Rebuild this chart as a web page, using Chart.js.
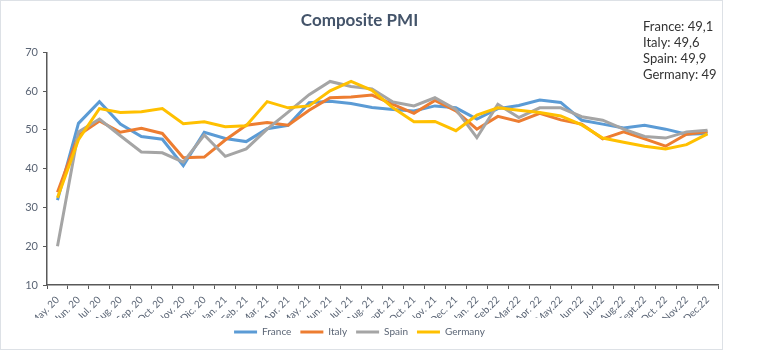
<!DOCTYPE html>
<html>
<head>
<meta charset="utf-8">
<script src="https://cdn.jsdelivr.net/npm/chart.js@4"></script>
<style>
  body { margin: 0; background: #fff; font-family: Lato, "Open Sans", sans-serif; }
  .frame { position: absolute; left: 0; top: 0; width: 723px; height: 350px; box-sizing: border-box; border: 1px solid #dde1e6; }
  .wrap { position: absolute; left: 0; top: 0; width: 721px; height: 348px; }
  .note { position: absolute; left: 642px; top: 17px; font-size: 13px; line-height: 16px; color: #333; }
</style>
</head>
<body>
<div class="frame">
  <div class="wrap"><canvas id="pmiChart"></canvas></div>
  <div class="note">France: 49,1<br>Italy: 49,6<br>Spain: 49,9<br>Germany: 49</div>
</div>
<script>
// Months on the x axis
const months = ['May. 20', 'Jun. 20', 'Jul. 20', 'Aug. 20', 'Sep. 20', 'Oct. 20', 'Nov. 20', 'Dic. 20',
    'Jan. 21', 'Feb. 21', 'Mar. 21', 'Apr. 21', 'May. 21', 'Jun. 21', 'Jul. 21', 'Aug. 21', 'Sept. 21',
    'Oct. 21', 'Nov. 21', 'Dec. 21', 'Jan. 22', 'Feb.22', 'Mar.22', 'Apr. 22', 'May.22', 'Jun.22',
    'Jul.22', 'Aug.22', 'Sept.22', 'Oct. 22', 'Nov.22', 'Dec.22'];

// Composite PMI per country
const france = [31.9, 51.7, 57.3, 51.5, 48.3, 47.6, 40.8, 49.4, 47.8, 47.0, 50.3, 51.2, 57.0, 57.4, 56.8, 55.8,
    55.3, 54.9, 56.2, 55.7, 52.8, 55.5, 56.3, 57.7, 57.1, 52.5, 51.5, 50.5, 51.2, 50.2, 48.9, 49.1];
const italy = [33.9, 48.6, 52.3, 49.4, 50.4, 49.1, 42.8, 43.0, 47.4, 51.2, 51.9, 51.2, 55.1, 58.3, 58.5, 59.0,
    56.6, 54.3, 57.6, 54.9, 50.2, 53.5, 52.2, 54.3, 52.6, 51.5, 47.7, 49.5, 47.7, 45.8, 48.9, 49.6];
const spain = [20.0, 49.5, 52.8, 48.5, 44.3, 44.1, 41.7, 48.7, 43.2, 45.1, 50.2, 54.6, 59.1, 62.5, 61.2, 60.6,
    57.2, 56.2, 58.3, 55.3, 48.0, 56.6, 53.2, 55.7, 55.7, 53.4, 52.5, 50.2, 48.3, 47.9, 49.5, 49.9];
const germany = [32.5, 47.5, 55.5, 54.5, 54.7, 55.5, 51.6, 52.1, 50.8, 51.1, 57.3, 55.7, 56.2, 60.1, 62.5, 60.2,
    55.7, 52.1, 52.2, 49.8, 53.8, 55.7, 55.1, 54.5, 53.6, 51.3, 47.9, 46.8, 45.8, 45.1, 46.2, 49.0];

const yTicks = [10, 20, 30, 40, 50, 60, 70];

const axisColor = '#595959';
const labelColor = '#5b6575';

function series(label, data, color, order) {
    return {
        label: label,
        data: data,
        borderColor: color,
        backgroundColor: color,
        borderWidth: 3,
        pointRadius: 0,
        tension: 0,
        order: order
    };
}

new Chart(document.getElementById('pmiChart'), {
    type: 'line',
    data: {
        labels: months,
        datasets: [
            series('France', france, '#5B9BD5', 4),
            series('Italy', italy, '#ED7D31', 3),
            series('Spain', spain, '#A5A5A5', 2),
            series('Germany', germany, '#FFC000', 1)
        ]
    },
    options: {
        responsive: true,
        maintainAspectRatio: false,
        animation: false,
        layout: { padding: { left: 0, right: 4, top: 0, bottom: 2 } },
        plugins: {
            tooltip: { enabled: false },
            title: {
                display: true,
                text: 'Composite PMI',
                color: '#44546A',
                font: { family: 'Lato', size: 17, weight: 'bold' },
                padding: { top: 9, bottom: 22 }
            },
            legend: {
                position: 'bottom',
                labels: {
                    usePointStyle: true,
                    pointStyle: 'line',
                    pointStyleWidth: 23,
                    padding: 9,
                    color: labelColor,
                    font: { family: 'Lato', size: 10 },
                    sort: (a, b) => a.datasetIndex - b.datasetIndex
                }
            }
        },
        scales: {
            x: {
                offset: true,
                grid: { offset: true, drawOnChartArea: false, drawTicks: true, tickLength: 4, color: axisColor },
                border: { display: true, color: axisColor, width: 1.5 },
                ticks: {
                    autoSkip: false,
                    minRotation: 45,
                    maxRotation: 45,
                    padding: 5,
                    color: labelColor,
                    font: { family: 'Lato', size: 10 }
                },
                afterFit: function (scale) { scale.height = 33; }
            },
            y: {
                min: yTicks[0],
                max: yTicks[yTicks.length - 1],
                grid: { drawOnChartArea: false, drawTicks: true, tickLength: 4, color: axisColor },
                border: { display: true, color: axisColor, width: 1.5 },
                afterBuildTicks: function (scale) {
                    scale.ticks = yTicks.map(v => ({ value: v }));
                },
                ticks: {
                    padding: 5,
                    color: labelColor,
                    font: { family: 'Lato', size: 11 }
                },
                afterFit: function (scale) { scale.width = 46; }
            }
        }
    }
});
</script>
</body>
</html>
